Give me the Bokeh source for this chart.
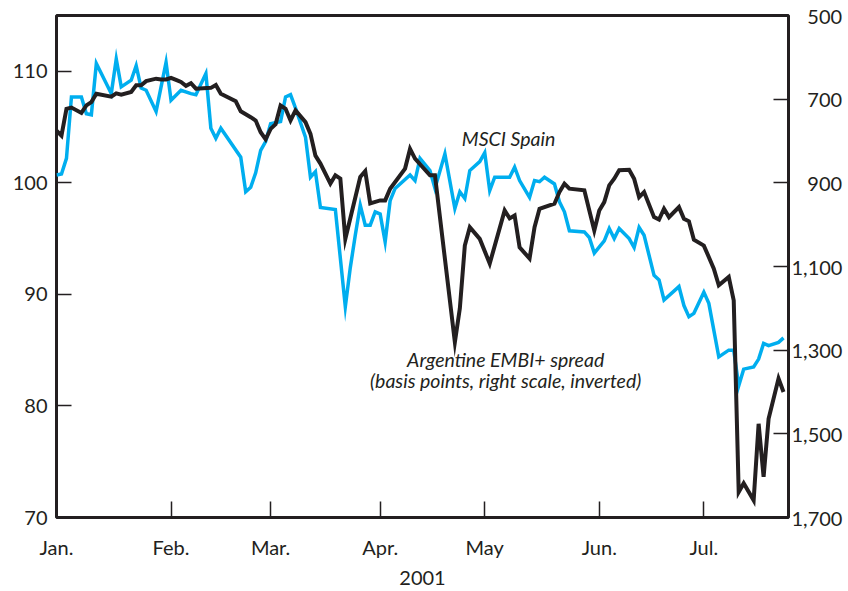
import numpy as np
from bokeh.plotting import figure
from bokeh.models import Range1d, LinearAxis, FixedTicker, Label
from bokeh.embed import file_html
from bokeh.resources import INLINE

# ---------------- data ----------------
months = ["Jan.", "Feb.", "Mar.", "Apr.", "May", "Jun.", "Jul."]
month_starts = ["2001-01-01", "2001-02-01", "2001-03-01", "2001-04-01",
                "2001-05-01", "2001-06-01", "2001-07-01"]
year_label = "2001"

# x = trading day of 2001 (0 = 1 Jan)
msci_day = [0, 1, 2, 3, 5, 6, 7, 8, 10, 11, 12, 13, 15, 16, 17, 18, 20, 22, 23, 25,
            27, 28, 30, 31, 32, 33, 37, 38, 39, 40, 41, 42, 43, 45, 46, 47, 48, 50, 51, 52,
            53, 56, 58, 59, 60, 61, 62, 63, 64, 65, 66, 67, 68, 71, 72, 73, 75, 76, 78, 80,
            81, 82, 83, 85, 86, 87, 88, 91, 92, 93, 95, 96, 97, 98, 100, 101, 102, 103, 106, 107,
            108, 110, 111, 112, 113, 115, 116, 117, 118, 120, 121, 122, 125, 126, 127, 128, 130, 131, 132, 133,
            135, 136, 137, 138, 140, 141, 142, 143, 145, 146]
msci_value = [100.7, 100.8, 102.2, 107.7, 107.7, 106.2, 106.1, 110.7, 108.9, 108.0,
              111.1, 108.6, 109.2, 110.5, 108.5, 108.3, 106.4, 110.8, 107.4, 108.3,
              108.0, 107.9, 109.8, 104.9, 104.0, 104.9, 102.3, 99.2, 99.6, 100.9,
              102.9, 103.7, 105.3, 105.5, 107.7, 107.9, 106.7, 104.1, 100.5, 101.0,
              97.8, 97.6, 88.9, 92.4, 95.3, 98.0, 96.2, 96.2, 97.4, 97.2,
              94.7, 98.4, 99.5, 100.7, 100.2, 102.2, 101.1, 99.5, 102.6, 97.7,
              99.2, 98.6, 101.1, 101.9, 102.7, 99.3, 100.5, 100.5, 101.4, 100.2,
              98.7, 100.2, 100.1, 100.5, 99.9, 98.3, 97.4, 95.7, 95.6, 95.1,
              93.7, 94.8, 95.9, 95.0, 95.9, 95.0, 94.2, 96.0, 95.3, 91.7,
              91.3, 89.5, 90.7, 89.0, 88.0, 88.3, 90.2, 89.2, 86.8, 84.4,
              85.0, 85.0, 81.8, 83.3, 83.5, 84.2, 85.6, 85.4, 85.7, 86.1]

embi_day = [0, 1, 2, 3, 5, 6, 7, 8, 11, 12, 13, 15, 16, 17, 18, 20, 21, 22, 23, 24,
            25, 26, 27, 28, 31, 32, 33, 36, 37, 39, 40, 41, 42, 43, 44, 45, 46, 47, 48, 50,
            51, 52, 53, 55, 56, 57, 58, 61, 62, 63, 65, 66, 67, 70, 71, 72, 75, 76, 80, 81,
            82, 83, 85, 87, 90, 91, 92, 93, 95, 96, 97, 100, 101, 102, 103, 106, 107, 108, 109, 110,
            111, 112, 113, 115, 116, 117, 118, 120, 121, 122, 123, 125, 126, 127, 128, 130, 132, 133, 135, 136,
            137, 138, 140, 141, 142, 143, 145, 146]
embi_spread = [775, 787, 723, 720, 733, 715, 707, 687, 694, 686,
               689, 683, 667, 667, 657, 651, 653, 653, 649, 654,
               659, 668, 662, 675, 673, 666, 687, 705, 729, 743,
               751, 779, 796, 771, 760, 715, 723, 751, 727, 755,
               783, 835, 854, 902, 882, 890, 1034, 886, 872, 949,
               942, 942, 914, 866, 819, 842, 882, 882, 1281, 1200,
               1050, 1006, 1034, 1093, 966, 985, 978, 1054, 1081, 1006,
               962, 950, 922, 902, 914, 918, 966, 1014, 966, 946,
               906, 890, 870, 869, 890, 934, 922, 982, 988, 962,
               982, 958, 986, 992, 1036, 1050, 1105, 1145, 1125, 1181,
               1639, 1618, 1659, 1476, 1603, 1464, 1368, 1400]

left_ticks = [70, 80, 90, 100, 110]
right_ticks = [500, 700, 900, 1100, 1300, 1500, 1700]

# ---------------- chart ----------------
INK = "#231f20"
BLUE = "#00aeef"
FONT = "Lato"

month_pos = [int(np.busday_count("2001-01-01", d)) for d in month_starts]

p = figure(width=846, height=590, output_backend="svg", toolbar_location=None,
           x_range=Range1d(0, 147), y_range=Range1d(70, 115),
           min_border_left=56, min_border_right=58, min_border_top=15,
           min_border_bottom=73)
p.extra_y_ranges = {"spread": Range1d(start=1700, end=500)}

p.grid.visible = False
p.outline_line_color = INK
p.outline_line_width = 3
p.outline_line_alpha = 1.0
p.background_fill_color = "white"
p.border_fill_color = "white"

# bottom axis
xa = p.xaxis[0]
xa.ticker = FixedTicker(ticks=month_pos)
xa.major_label_overrides = {pos: m for pos, m in zip(month_pos, months)}
xa.axis_label = year_label
xa.axis_label_text_font = FONT
xa.axis_label_text_font_style = "normal"
xa.axis_label_text_font_size = "20px"
xa.axis_label_text_color = INK
xa.axis_label_standoff = 9
xa.major_label_text_font = FONT
xa.major_label_text_font_size = "20px"
xa.major_label_text_color = INK
xa.major_label_standoff = 17
xa.major_tick_in = 16
xa.major_tick_out = 0
xa.minor_tick_line_color = None
xa.major_tick_line_color = INK
xa.major_tick_line_width = 1.5
xa.axis_line_color = None

# left axis
ya = p.yaxis[0]
ya.ticker = FixedTicker(ticks=left_ticks)
ya.major_label_text_font = FONT
ya.major_label_text_font_size = "20px"
ya.major_label_text_color = INK
ya.major_label_standoff = 9
ya.major_tick_in = 15
ya.major_tick_out = 0
ya.minor_tick_line_color = None
ya.major_tick_line_color = INK
ya.major_tick_line_width = 1.5
ya.axis_line_color = None

# right axis (inverted spread)
pad = {500: "\u2007\u2008", 700: "\u2007\u2008", 900: "\u2007\u2008"}
ra = LinearAxis(y_range_name="spread", ticker=FixedTicker(ticks=right_ticks))
ra.major_label_overrides = {t: pad.get(t, "") + f"{t:,}" for t in right_ticks}
ra.major_label_text_font = FONT
ra.major_label_text_font_size = "20px"
ra.major_label_text_color = INK
ra.major_label_standoff = 3
ra.major_tick_in = 15
ra.major_tick_out = 0
ra.minor_tick_line_color = None
ra.major_tick_line_color = INK
ra.major_tick_line_width = 1.5
ra.axis_line_color = None
p.add_layout(ra, "right")

# series
p.line(msci_day, msci_value, line_color=BLUE, line_width=3.5, line_join="miter")
p.line(embi_day, embi_spread, y_range_name="spread", line_color=INK,
       line_width=4, line_join="miter")

# annotations
lab_style = dict(text_font=FONT, text_font_style="italic", text_font_size="19.5px",
                 text_color=INK, text_baseline="middle")
p.add_layout(Label(x=81.4, y=104.0, text="MSCI Spain", text_align="left", **lab_style))
p.add_layout(Label(x=90.2, y=84.2, text="Argentine EMBI+ spread",
                   text_align="center", **lab_style))
p.add_layout(Label(x=90.2, y=82.3, text="(basis points, right scale, inverted)",
                   text_align="center", **lab_style))

open("out.html", "w").write(file_html(p, INLINE))
